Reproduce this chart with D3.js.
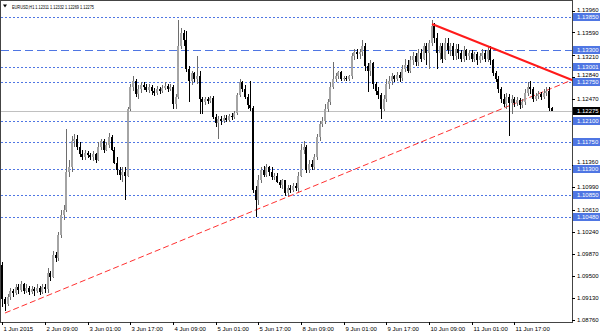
<!DOCTYPE html>
<html>
<head>
<meta charset="utf-8">
<script src="https://d3js.org/d3.v7.min.js"></script>
<style>
	body { margin: 0; background: #fff; }
	svg { display: block; font-family: "Liberation Sans", Arial, sans-serif; }
	.axis path { display: none; }
	.axis line { stroke: #000; shape-rendering: crispEdges; }
	.axis text { fill: #000; font-size: 6px; }
</style>
</head>
<body>
<div id="chart"></div>
<script>
// EURUSD H1, one row per hour: [open, high, low, close]
let candles = [
	[1.0967,1.0972,1.0897,1.0911],[1.0911,1.0914,1.0890,1.0902],[1.0902,1.0919,1.0899,1.0914],[1.0914,1.0929,1.0909,1.0924],
	[1.0924,1.0928,1.0914,1.0921],[1.0921,1.0936,1.0918,1.0931],[1.0931,1.0935,1.0919,1.0926],[1.0926,1.0940,1.0923,1.0935],
	[1.0935,1.0938,1.0919,1.0924],[1.0924,1.0936,1.0921,1.0929],[1.0929,1.0933,1.0918,1.0923],[1.0923,1.0933,1.0919,1.0928],
	[1.0928,1.0931,1.0916,1.0924],[1.0924,1.0935,1.0921,1.0929],[1.0929,1.0933,1.0918,1.0923],[1.0923,1.0936,1.0919,1.0931],
	[1.0931,1.0935,1.0921,1.0928],[1.0928,1.0962,1.0921,1.0955],[1.0955,1.0958,1.0941,1.0948],[1.0948,1.0992,1.0945,1.0984],
	[1.0984,1.0989,1.0972,1.0979],[1.0979,1.1023,1.0975,1.1018],[1.1018,1.1060,1.1013,1.1052],[1.1052,1.1069,1.1043,1.1060],
	[1.1060,1.1196,1.1057,1.1125],[1.1125,1.1145,1.1115,1.1132],[1.1132,1.1184,1.1125,1.1176],[1.1176,1.1188,1.1166,1.1179],
	[1.1179,1.1186,1.1162,1.1167],[1.1167,1.1174,1.1149,1.1154],[1.1154,1.1162,1.1145,1.1149],[1.1149,1.1161,1.1145,1.1156],
	[1.1156,1.1159,1.1147,1.1152],[1.1152,1.1157,1.1145,1.1149],[1.1149,1.1159,1.1142,1.1154],[1.1154,1.1157,1.1140,1.1145],
	[1.1145,1.1174,1.1142,1.1167],[1.1167,1.1179,1.1162,1.1176],[1.1176,1.1179,1.1157,1.1162],[1.1162,1.1174,1.1159,1.1169],
	[1.1169,1.1190,1.1164,1.1183],[1.1183,1.1186,1.1159,1.1162],[1.1162,1.1166,1.1137,1.1140],[1.1140,1.1149,1.1120,1.1128],
	[1.1128,1.1133,1.1111,1.1120],[1.1120,1.1132,1.1108,1.1125],[1.1125,1.1132,1.1077,1.1118],[1.1118,1.1234,1.1115,1.1230],
	[1.1230,1.1273,1.1227,1.1268],[1.1268,1.1285,1.1261,1.1278],[1.1278,1.1281,1.1251,1.1256],[1.1256,1.1271,1.1247,1.1264],
	[1.1264,1.1276,1.1258,1.1271],[1.1271,1.1275,1.1263,1.1268],[1.1268,1.1273,1.1259,1.1263],[1.1263,1.1273,1.1258,1.1268],
	[1.1268,1.1271,1.1254,1.1261],[1.1261,1.1266,1.1252,1.1258],[1.1258,1.1269,1.1254,1.1264],[1.1264,1.1268,1.1256,1.1261],
	[1.1261,1.1271,1.1258,1.1266],[1.1266,1.1275,1.1263,1.1269],[1.1269,1.1273,1.1259,1.1264],[1.1264,1.1273,1.1261,1.1268],
	[1.1268,1.1271,1.1230,1.1239],[1.1239,1.1256,1.1230,1.1251],[1.1251,1.1380,1.1247,1.1337],[1.1337,1.1366,1.1332,1.1358],
	[1.1358,1.1363,1.1336,1.1346],[1.1346,1.1361,1.1293,1.1298],[1.1298,1.1302,1.1242,1.1278],[1.1278,1.1295,1.1271,1.1290],
	[1.1290,1.1293,1.1275,1.1281],[1.1281,1.1319,1.1273,1.1285],[1.1285,1.1295,1.1222,1.1247],[1.1247,1.1251,1.1222,1.1242],
	[1.1242,1.1251,1.1237,1.1247],[1.1247,1.1251,1.1239,1.1244],[1.1244,1.1252,1.1241,1.1249],[1.1249,1.1252,1.1213,1.1217],
	[1.1217,1.1222,1.1200,1.1207],[1.1207,1.1218,1.1179,1.1213],[1.1213,1.1218,1.1203,1.1210],[1.1210,1.1220,1.1207,1.1215],
	[1.1215,1.1220,1.1208,1.1212],[1.1212,1.1222,1.1208,1.1218],[1.1218,1.1224,1.1212,1.1217],[1.1217,1.1227,1.1213,1.1224],
	[1.1224,1.1258,1.1220,1.1254],[1.1254,1.1280,1.1251,1.1275],[1.1275,1.1278,1.1259,1.1264],[1.1264,1.1271,1.1247,1.1251],
	[1.1251,1.1256,1.1230,1.1237],[1.1237,1.1278,1.1227,1.1232],[1.1232,1.1235,1.1089,1.1094],[1.1094,1.1101,1.1048,1.1077],
	[1.1077,1.1120,1.1069,1.1111],[1.1111,1.1133,1.1106,1.1128],[1.1128,1.1135,1.1115,1.1120],[1.1120,1.1137,1.1115,1.1132],
	[1.1132,1.1135,1.1118,1.1125],[1.1125,1.1132,1.1111,1.1115],[1.1115,1.1123,1.1111,1.1118],[1.1118,1.1122,1.1105,1.1108],
	[1.1108,1.1111,1.1098,1.1103],[1.1103,1.1113,1.1096,1.1110],[1.1110,1.1111,1.1084,1.1089],[1.1089,1.1103,1.1084,1.1098],
	[1.1098,1.1103,1.1089,1.1094],[1.1094,1.1106,1.1091,1.1101],[1.1101,1.1106,1.1093,1.1098],[1.1098,1.1125,1.1091,1.1118],
	[1.1118,1.1171,1.1115,1.1162],[1.1162,1.1176,1.1154,1.1166],[1.1166,1.1169,1.1123,1.1128],[1.1128,1.1145,1.1123,1.1137],
	[1.1137,1.1144,1.1127,1.1132],[1.1132,1.1154,1.1128,1.1149],[1.1149,1.1188,1.1145,1.1183],[1.1183,1.1210,1.1176,1.1205],
	[1.1205,1.1217,1.1200,1.1210],[1.1210,1.1239,1.1205,1.1230],[1.1230,1.1247,1.1225,1.1242],[1.1242,1.1276,1.1237,1.1268],
	[1.1268,1.1310,1.1264,1.1281],[1.1281,1.1290,1.1276,1.1285],[1.1285,1.1295,1.1281,1.1292],[1.1292,1.1295,1.1278,1.1281],
	[1.1281,1.1286,1.1278,1.1283],[1.1283,1.1286,1.1278,1.1281],[1.1281,1.1288,1.1278,1.1285],[1.1285,1.1324,1.1281,1.1319],
	[1.1319,1.1332,1.1312,1.1327],[1.1327,1.1332,1.1315,1.1322],[1.1322,1.1331,1.1315,1.1326],[1.1326,1.1346,1.1319,1.1336],
	[1.1336,1.1341,1.1295,1.1302],[1.1302,1.1307,1.1259,1.1295],[1.1295,1.1312,1.1285,1.1307],[1.1307,1.1310,1.1264,1.1273],
	[1.1273,1.1276,1.1254,1.1261],[1.1261,1.1268,1.1247,1.1254],[1.1254,1.1258,1.1213,1.1230],[1.1230,1.1254,1.1227,1.1247],
	[1.1247,1.1281,1.1242,1.1273],[1.1273,1.1285,1.1264,1.1278],[1.1278,1.1290,1.1271,1.1285],[1.1285,1.1288,1.1275,1.1281],
	[1.1281,1.1292,1.1278,1.1288],[1.1288,1.1293,1.1276,1.1283],[1.1283,1.1305,1.1278,1.1298],[1.1298,1.1315,1.1292,1.1305],
	[1.1305,1.1312,1.1290,1.1295],[1.1295,1.1319,1.1290,1.1312],[1.1312,1.1326,1.1305,1.1319],[1.1319,1.1324,1.1302,1.1309],
	[1.1309,1.1332,1.1303,1.1324],[1.1324,1.1332,1.1309,1.1315],[1.1315,1.1341,1.1312,1.1336],[1.1336,1.1342,1.1305,1.1324],
	[1.1324,1.1346,1.1298,1.1341],[1.1341,1.1380,1.1336,1.1370],[1.1370,1.1375,1.1341,1.1349],[1.1349,1.1358,1.1298,1.1324],
	[1.1324,1.1342,1.1312,1.1336],[1.1336,1.1341,1.1307,1.1315],[1.1315,1.1349,1.1312,1.1341],[1.1341,1.1349,1.1322,1.1329],
	[1.1329,1.1342,1.1319,1.1336],[1.1336,1.1341,1.1312,1.1319],[1.1319,1.1339,1.1312,1.1332],[1.1332,1.1339,1.1315,1.1324],
	[1.1324,1.1329,1.1309,1.1315],[1.1315,1.1336,1.1310,1.1329],[1.1329,1.1332,1.1312,1.1319],[1.1319,1.1329,1.1312,1.1324],
	[1.1324,1.1329,1.1309,1.1315],[1.1315,1.1327,1.1310,1.1322],[1.1322,1.1326,1.1305,1.1312],[1.1312,1.1324,1.1307,1.1319],
	[1.1319,1.1332,1.1312,1.1324],[1.1324,1.1329,1.1309,1.1315],[1.1315,1.1336,1.1310,1.1329],[1.1329,1.1336,1.1305,1.1312],
	[1.1312,1.1315,1.1285,1.1290],[1.1290,1.1295,1.1275,1.1281],[1.1281,1.1285,1.1258,1.1264],[1.1264,1.1268,1.1241,1.1247],
	[1.1247,1.1256,1.1234,1.1239],[1.1239,1.1258,1.1230,1.1251],[1.1251,1.1256,1.1184,1.1241],[1.1241,1.1254,1.1222,1.1247],
	[1.1247,1.1251,1.1234,1.1241],[1.1241,1.1251,1.1235,1.1246],[1.1246,1.1249,1.1230,1.1237],[1.1237,1.1247,1.1232,1.1242],
	[1.1242,1.1264,1.1237,1.1258],[1.1258,1.1276,1.1252,1.1268],[1.1268,1.1278,1.1256,1.1264],[1.1264,1.1268,1.1242,1.1247],
	[1.1247,1.1258,1.1244,1.1252],[1.1252,1.1261,1.1247,1.1256],[1.1256,1.1259,1.1246,1.1251],[1.1251,1.1264,1.1247,1.1258],
	[1.1258,1.1268,1.1252,1.1261],[1.1261,1.1268,1.1227,1.12311],[1.12311,1.12332,1.12269,1.12275]
];

let timeLabels = ["1 Jun 2015", "2 Jun 09:00", "3 Jun 01:00", "3 Jun 17:00", "4 Jun 09:00", "5 Jun 01:00",
	"5 Jun 17:00", "8 Jun 09:00", "9 Jun 01:00", "9 Jun 17:00", "10 Jun 09:00", "11 Jun 01:00", "11 Jun 17:00"];
let timeLabelBars = [0, 16, 32, 48, 64, 80, 96, 112, 128, 144, 160, 176, 192];

let priceTicks = ["1.13960", "1.13590", "1.13210", "1.12840", "1.12470", "1.12100", "1.11730", "1.11360",
	"1.10990", "1.10610", "1.10240", "1.09870", "1.09500", "1.09130", "1.08760"];

let dottedLevels = [1.13850, 1.13001, 1.12750, 1.12100, 1.11750, 1.11300, 1.10850, 1.10480];
let dashedLevels = [1.13300];
let lastPrice = 1.12275;

// trend lines as [bar, price]
let resistanceLine = [[161.1, 1.13733], [213.6, 1.12791]];
let supportLine = [[1.0, 1.08869], [213.6, 1.12791]];

let symbol = "EURUSD,H1";

window.onload = function() {
	let width = 600, height = 333,
		plotRight = 572, plotBottom = 322;

	let x = d3.scaleLinear().domain([0, 213.6]).range([2.3, plotRight]);
	let y = d3.scaleLinear().domain([1.0876, 1.1396]).range([319.5, 10.5]);

	let svg = d3.select("#chart").append("svg")
		.attr("width", width)
		.attr("height", height);

	svg.append("rect").attr("width", width).attr("height", height).attr("fill", "#fff");

	let levelColor = "#4f76e3";

	// current price line
	svg.append("line")
		.attr("x1", 1).attr("x2", plotRight)
		.attr("y1", Math.round(y(lastPrice)) + 0.5).attr("y2", Math.round(y(lastPrice)) + 0.5)
		.attr("stroke", "#c0c0c0");

	svg.selectAll(".dot-level").data(dottedLevels).enter().append("line")
		.attr("x1", 1).attr("x2", plotRight)
		.attr("y1", d => Math.round(y(d)) + 0.5).attr("y2", d => Math.round(y(d)) + 0.5)
		.attr("stroke", levelColor)
		.attr("stroke-dasharray", "2,2");

	svg.selectAll(".dash-level").data(dashedLevels).enter().append("line")
		.attr("x1", 1).attr("x2", plotRight)
		.attr("y1", d => Math.round(y(d)) + 0.5).attr("y2", d => Math.round(y(d)) + 0.5)
		.attr("stroke", levelColor)
		.attr("stroke-dasharray", "8,4");

	// support trend line (dashed, under the candles)
	svg.append("line")
		.attr("x1", x(supportLine[0][0])).attr("y1", y(supportLine[0][1]))
		.attr("x2", x(supportLine[1][0])).attr("y2", y(supportLine[1][1]))
		.attr("stroke", "#ff3030").attr("stroke-width", 1)
		.attr("stroke-dasharray", "6,3");

	// candles
	let bars = svg.append("g").attr("shape-rendering", "crispEdges");
	let bx = i => Math.round(x(i));
	let up = d => d[3] >= d[0];
	bars.selectAll(".wick").data(candles).enter().append("rect")
		.attr("x", (d, i) => bx(i))
		.attr("width", 1)
		.attr("y", d => Math.round(y(d[1])))
		.attr("height", d => Math.max(1, Math.round(y(d[2])) - Math.round(y(d[1]))))
		.attr("fill", d => up(d) ? "#6e6e6e" : "#000");
	bars.selectAll(".body").data(candles).enter().append("rect")
		.attr("x", (d, i) => bx(i) - 1)
		.attr("width", 2)
		.attr("y", d => Math.round(y(Math.max(d[0], d[3]))))
		.attr("height", d => Math.max(1, Math.round(y(Math.min(d[0], d[3]))) - Math.round(y(Math.max(d[0], d[3])))))
		.attr("fill", d => up(d) ? "#a4a4a4" : "#000");

	// resistance trend line
	svg.append("line")
		.attr("x1", x(resistanceLine[0][0])).attr("y1", y(resistanceLine[0][1]))
		.attr("x2", x(resistanceLine[1][0])).attr("y2", y(resistanceLine[1][1]))
		.attr("stroke", "#ff1a1a").attr("stroke-width", 2);

	// frame
	svg.append("rect")
		.attr("x", 0.5).attr("y", 0.5)
		.attr("width", plotRight - 0.5).attr("height", plotBottom - 0.5)
		.attr("fill", "none").attr("stroke", "#444")
		.attr("shape-rendering", "crispEdges");

	// axes
	let xAxis = d3.axisBottom(x)
		.tickValues(timeLabelBars)
		.tickSize(3)
		.tickFormat((d, i) => timeLabels[i]);
	let xAxisNode = svg.append("g")
		.attr("class", "axis")
		.attr("transform", "translate(0," + plotBottom + ")")
		.call(xAxis);
	xAxisNode.selectAll(".tick").attr("transform", d => "translate(" + (bx(d) + 0.5) + ",0)");
	xAxisNode.selectAll("text").attr("text-anchor", "start").attr("x", 1).attr("y", 5);

	// price ticks fully hidden behind a level box are left out, the others are nudged clear of the boxes
	let boxValues = dottedLevels.concat(dashedLevels, [lastPrice]);
	let shownTicks = priceTicks.filter(t => !boxValues.some(v => Math.abs(y(v) - y(+t)) < 2.5));
	let yAxis = d3.axisRight(y)
		.tickValues(shownTicks.map(Number))
		.tickSize(3)
		.tickFormat((d, i) => shownTicks[i]);
	let yAxisNode = svg.append("g")
		.attr("class", "axis")
		.attr("transform", "translate(" + plotRight + ",0)")
		.call(yAxis);
	yAxisNode.selectAll("text")
		.attr("x", 5)
		.attr("y", d => {
			let shift = 0;
			boxValues.forEach(v => {
				let dy = y(d) - Math.round(y(v));
				if (Math.abs(dy) < 7) shift = (dy < 0 ? -1 : 1) * (7 - Math.abs(dy));
			});
			return shift;
		});

	// level price boxes
	let boxes = dottedLevels.concat(dashedLevels).map(v => ({ v: v, fill: levelColor, text: v.toFixed(5) }));
	boxes.push({ v: lastPrice, fill: "#000", text: lastPrice.toFixed(5) });
	let boxG = svg.selectAll(".pbox").data(boxes).enter().append("g")
		.attr("transform", d => "translate(" + (plotRight + 1) + "," + Math.round(y(d.v)) + ")");
	boxG.append("rect")
		.attr("x", 0).attr("y", -4).attr("width", width - plotRight).attr("height", 8)
		.attr("fill", d => d.fill);
	boxG.append("text")
		.attr("x", 4).attr("y", 0).attr("dy", "0.34em")
		.attr("font-size", "6px").attr("fill", "#fff")
		.text(d => d.text);

	// header
	let last = candles[candles.length - 1];
	svg.append("path").attr("d", "M3,4.5 L7,4.5 L5,7.5 Z").attr("fill", "#000");
	svg.append("text")
		.attr("x", 12).attr("y", 9)
		.attr("font-size", "5px")
		.attr("textLength", 82).attr("lengthAdjust", "spacingAndGlyphs")
		.text(symbol + "  " + last.map(v => v.toFixed(5)).join(" "));
};
</script>
</body>
</html>
